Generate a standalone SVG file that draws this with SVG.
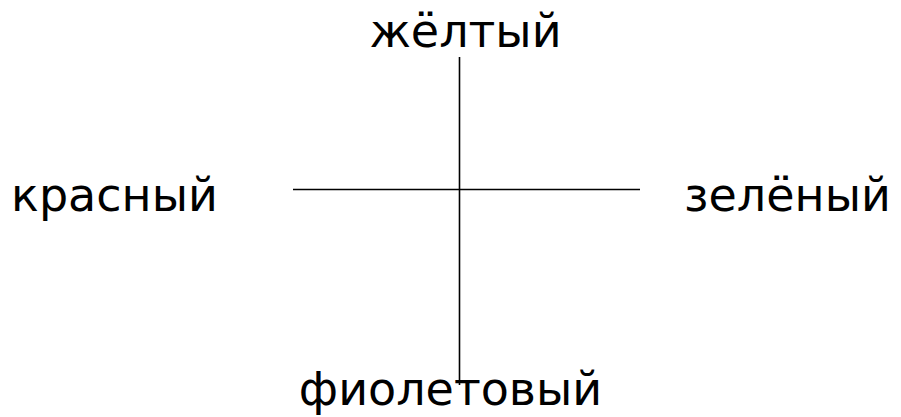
<svg xmlns="http://www.w3.org/2000/svg" width="901" height="417" viewBox="0 0 901 417">
<style>
text{font-family:"DejaVu Sans",sans-serif;font-size:46px;fill:#000;text-anchor:middle}
.c{stroke:#000;stroke-width:1.6;fill:none}
</style>
<rect width="901" height="417" fill="#fff"/>
<g id="connectors">
<line class="c" x1="459.5" y1="57" x2="459.5" y2="385"/>
<line class="c" x1="293" y1="189.5" x2="640" y2="189.5"/>
</g>
<g id="n-yellow"><text x="465.5" y="47">жёлтый</text></g>
<g id="n-red"><text x="114.5" y="211">красный</text></g>
<g id="n-green"><text x="787.5" y="211">зелёный</text></g>
<g id="n-violet"><text x="450.5" y="405">фиолетовый</text></g>
</svg>
